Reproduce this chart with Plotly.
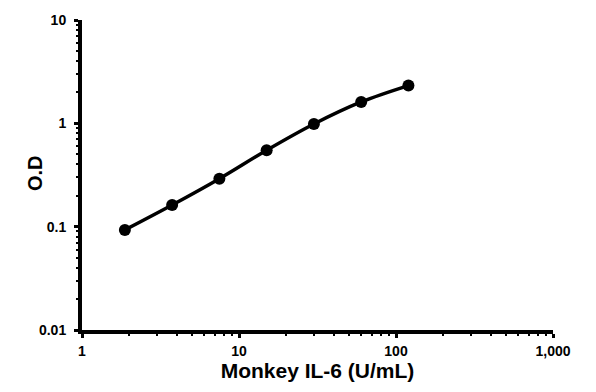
import plotly.graph_objects as go

conc = [1.875, 3.75, 7.5, 15, 30, 60, 120]
od = [0.093, 0.162, 0.291, 0.549, 0.985, 1.61, 2.32]

x_tickvals = [1, 10, 100, 1000]
x_ticktext = ["1", "10", "100", "1,000"]
y_tickvals = [0.01, 0.1, 1, 10]
y_ticktext = ["0.01", "0.1", "1", "10"]

font_family = "Liberation Sans, Arial, sans-serif"

fig = go.Figure()
fig.add_trace(go.Scatter(
    x=conc, y=od, mode="lines+markers",
    line=dict(color="black", width=3.5, shape="spline"),
    marker=dict(color="black", size=12),
    showlegend=False,
))

axis_common = dict(
    type="log",
    showgrid=False,
    zeroline=False,
    showline=True,
    linecolor="black",
    linewidth=4,
    ticks="outside",
    ticklen=4,
    tickwidth=3,
    tickcolor="black",
    tickfont=dict(family=font_family, size=14, color="black", weight="bold"),
    minor=dict(ticks="outside", ticklen=2, tickwidth=2, tickcolor="black", dtick="D1", showgrid=False),
)

fig.update_layout(
    width=596, height=392,
    margin=dict(l=82, r=43, t=15, b=62),
    paper_bgcolor="white",
    plot_bgcolor="white",
    xaxis=dict(
        **axis_common,
        range=[0, 3],
        tickvals=x_tickvals, ticktext=x_ticktext,
        ticklabelstandoff=1,
        title=dict(text="Monkey IL-6 (U/mL)", font=dict(family=font_family, size=21, color="black", weight="bold"), standoff=7),
    ),
    yaxis=dict(
        **axis_common,
        range=[-2, 1],
        tickvals=y_tickvals, ticktext=y_ticktext,
        ticklabelstandoff=5,
    ),
    annotations=[dict(
        text="O.D", textangle=-90, showarrow=False,
        xref="paper", yref="paper", x=0, y=0.5, xshift=-47, yshift=2,
        xanchor="center", yanchor="middle",
        font=dict(family=font_family, size=20, color="black", weight="bold"),
    )],
)

fig.write_html("out.html")
